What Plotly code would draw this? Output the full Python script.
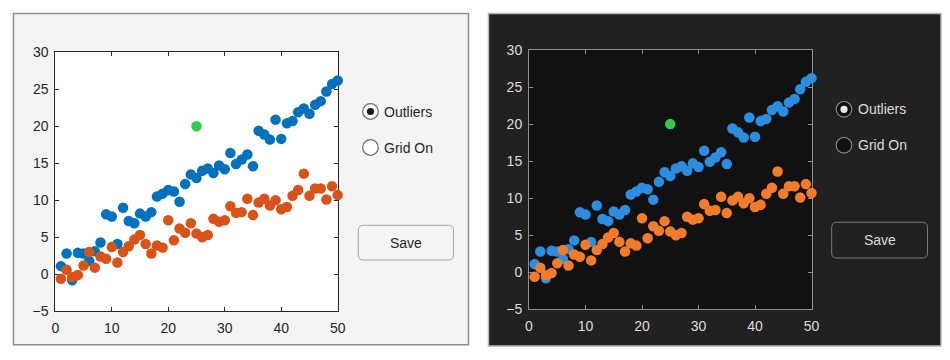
import plotly.graph_objects as go

# ---------------- data ----------------
x_vals = list(range(1, 51))
series_a = [1.1, 2.8, -0.8, 2.9, 2.8, 1.8, 3.1, 4.3, 8.1, 7.8,
            4.1, 9.0, 7.2, 6.9, 8.2, 7.8, 8.4, 10.5, 10.9, 11.4,
            11.2, 9.8, 12.2, 13.5, 13.0, 14.0, 14.3, 13.7, 14.7, 14.2,
            16.4, 14.9, 15.5, 16.2, 14.6, 19.4, 18.9, 18.2, 20.9, 18.3,
            20.4, 20.7, 21.9, 22.4, 21.7, 22.9, 23.4, 24.7, 25.7, 26.2]
series_b = [-0.6, 0.6, -0.4, -0.1, 1.2, 3.0, 0.9, 2.4, 2.1, 3.7,
            1.6, 3.0, 3.8, 4.7, 5.3, 4.1, 2.8, 3.9, 3.6, 7.3,
            4.6, 6.2, 5.6, 6.9, 5.5, 5.0, 5.3, 7.5, 7.1, 7.3,
            9.2, 8.3, 8.4, 10.2, 8.0, 9.7, 10.2, 9.3, 10.0, 8.8,
            9.1, 10.6, 11.4, 13.6, 10.6, 11.6, 11.6, 10.1, 11.9, 10.7]
outlier_x = [25]
outlier_y = [20]
x_ticks = [0, 10, 20, 30, 40, 50]
y_ticks = [-5, 0, 5, 10, 15, 20, 25, 30]
radio_labels = ["Outliers", "Grid On"]
button_label = "Save"

W, H = 950, 360
FONT = "Liberation Sans, Arial, sans-serif"


def px(x):
    return x / W


def py(y):
    return 1 - y / H


themes = [
    dict(panel=(13.5, 13.5, 468.5, 344.8), panel_fill="#f4f4f4", panel_line="#8e8e8e",
         plot=(55.3, 52.3, 337.7, 311.3), plot_fill="#ffffff", axis="#262626",
         text="#262626", c1="#0072BD", c2="#D95319", c3="#33CC4A",
         radio_cx=370.5, radio_y=(111.5, 147.5), radio_fill="#ffffff", radio_line="#6e6e6e",
         dot="#1a1a1a", btn=(358.3, 225.3, 453.5, 260.0), btn_fill="#f4f4f4", btn_line="#a6a6a6"),
    dict(panel=(488.5, 13.5, 941.0, 346.0), panel_fill="#212121", panel_line="#b4b4b4",
         plot=(529.0, 50.0, 811.5, 309.3), plot_fill="#111111", axis="#8f8f8f",
         text="#dcdcdc", c1="#2C8EE0", c2="#F27C2B", c3="#33CC4A",
         radio_cx=844.0, radio_y=(109.3, 145.3), radio_fill="#111111", radio_line="#8a8a8a",
         dot="#e8e8e8", btn=(831.7, 222.3, 927.5, 258.0), btn_fill="#212121", btn_line="#7a7a7a"),
]

fig = go.Figure()
shapes = []
annotations = []
layout_axes = {}

for i, t in enumerate(themes, start=1):
    xa = "x" if i == 1 else f"x{i}"
    ya = "y" if i == 1 else f"y{i}"
    # panel background
    x0, y0, x1, y1 = t["panel"]
    shapes.append(dict(type="rect", xref="paper", yref="paper", layer="below",
                       x0=px(x0), x1=px(x1), y0=py(y1), y1=py(y0),
                       fillcolor=t["panel_fill"], line=dict(color=t["panel_line"], width=1.5)))
    # plot background
    p0, q0, p1, q1 = t["plot"]
    shapes.append(dict(type="rect", xref="paper", yref="paper", layer="below",
                       x0=px(p0), x1=px(p1), y0=py(q1), y1=py(q0),
                       fillcolor=t["plot_fill"], line=dict(width=0)))

    for xs, ys, col in ((x_vals, series_a, t["c1"]), (x_vals, series_b, t["c2"]),
                        (outlier_x, outlier_y, t["c3"])):
        fig.add_trace(go.Scatter(x=xs, y=ys, mode="markers", xaxis=xa, yaxis=ya,
                                 cliponaxis=False, showlegend=False, hoverinfo="skip",
                                 marker=dict(size=10.5, color=col, line=dict(width=0))))

    common = dict(showline=True, mirror="ticks", linecolor=t["axis"], linewidth=1,
                  ticks="inside", ticklen=4, tickcolor=t["axis"], tickwidth=1,
                  showgrid=False, zeroline=False, layer="below traces", automargin=False,
                  tickfont=dict(family=FONT, size=14, color=t["text"]), fixedrange=True)
    layout_axes["xaxis" if i == 1 else f"xaxis{i}"] = dict(
        common, domain=[px(p0), px(p1)], range=[0, 50], tickvals=x_ticks,
        anchor=ya, ticklabelstandoff=4)
    layout_axes["yaxis" if i == 1 else f"yaxis{i}"] = dict(
        common, domain=[py(q1), py(q0)], range=[-5, 30], tickvals=y_ticks,
        anchor=xa, ticklabelstandoff=3)

    # radio buttons
    r = 7.8
    for k, (lab, cy) in enumerate(zip(radio_labels, t["radio_y"])):
        cx = t["radio_cx"]
        shapes.append(dict(type="circle", xref="paper", yref="paper",
                           x0=px(cx - r), x1=px(cx + r), y0=py(cy + r), y1=py(cy - r),
                           fillcolor=t["radio_fill"], line=dict(color=t["radio_line"], width=1.2)))
        if k == 0:
            rd = 3.6
            shapes.append(dict(type="circle", xref="paper", yref="paper",
                               x0=px(cx - rd), x1=px(cx + rd), y0=py(cy + rd), y1=py(cy - rd),
                               fillcolor=t["dot"], line=dict(width=0)))
        annotations.append(dict(xref="paper", yref="paper", x=px(cx + 11.5), y=py(cy),
                                xanchor="left", yanchor="middle", text=lab, showarrow=False,
                                font=dict(family=FONT, size=14, color=t["text"])))

    # save button (rounded rectangle)
    b0, c0, b1, c1 = t["btn"]
    rr = 5
    path = (f"M {px(b0 + rr)},{py(c0)} L {px(b1 - rr)},{py(c0)} "
            f"Q {px(b1)},{py(c0)} {px(b1)},{py(c0 + rr)} "
            f"L {px(b1)},{py(c1 - rr)} Q {px(b1)},{py(c1)} {px(b1 - rr)},{py(c1)} "
            f"L {px(b0 + rr)},{py(c1)} Q {px(b0)},{py(c1)} {px(b0)},{py(c1 - rr)} "
            f"L {px(b0)},{py(c0 + rr)} Q {px(b0)},{py(c0)} {px(b0 + rr)},{py(c0)} Z")
    shapes.append(dict(type="path", xref="paper", yref="paper", path=path,
                       fillcolor=t["btn_fill"], line=dict(color=t["btn_line"], width=1)))
    annotations.append(dict(xref="paper", yref="paper", x=px((b0 + b1) / 2), y=py((c0 + c1) / 2),
                            xanchor="center", yanchor="middle", text=button_label, showarrow=False,
                            font=dict(family=FONT, size=14, color=t["text"])))

fig.update_layout(template="none", width=W, height=H, autosize=False,
                  margin=dict(l=0, r=0, t=0, b=0, pad=0),
                  paper_bgcolor="#ffffff", plot_bgcolor="rgba(0,0,0,0)",
                  shapes=shapes, annotations=annotations, showlegend=False,
                  **layout_axes)

fig.write_html("out.html", config={"displayModeBar": False, "staticPlot": True},
               post_script="document.body.style.margin='0';document.body.style.overflow='hidden';")
